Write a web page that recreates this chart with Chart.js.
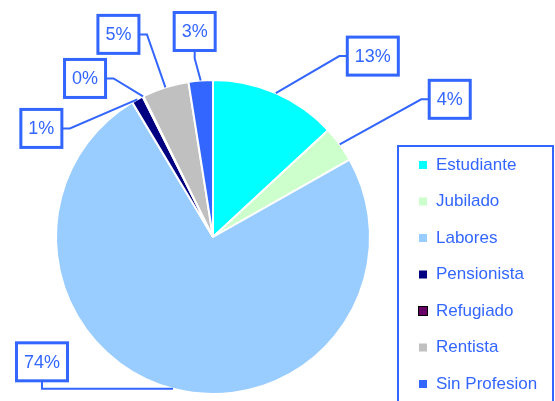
<!doctype html>
<html>
<head>
	<title>Profesion</title>
	<script src="https://cdn.jsdelivr.net/npm/chart.js@4/dist/chart.umd.min.js"></script>
	<style>
	html, body { margin: 0; padding: 0; background: #fff; }
	#wrap { width: 555px; height: 401px; position: relative; }
	</style>
</head>
<body>
	<div id="wrap"><canvas id="canvas"></canvas></div>
	<script>
		var categories = ['Estudiante', 'Jubilado', 'Labores', 'Pensionista', 'Refugiado', 'Rentista', 'Sin Profesion'];
		var shares = [13.1, 3.7, 74.6, 1.2, 0.1, 4.8, 2.5];
		var percentLabels = ['13%', '4%', '74%', '1%', '0%', '5%', '3%'];
		var sliceColors = ['#00FFFF', '#CCFFCC', '#99CCFF', '#000080', '#660066', '#C0C0C0', '#3366FF'];

		var blue = '#3366FF';
		// label box placement relative to the slice edge point, and which side the leader enters
		var labelPlacement = [
			{dx: 97, dy: -37, side: 'left'},
			{dx: 110, dy: -45, side: 'left'},
			{dx: -131, dy: -27, side: 'bottom'},
			{dx: -96, dy: 29, side: 'right'},
			{dx: -58, dy: -18, side: 'right'},
			{dx: -47, dy: -53, side: 'right'},
			{dx: -6, dy: -49, side: 'bottom'}
		];

		var labelPlugin = {
			id: 'boxLabels',
			afterDatasetsDraw: function(chart) {
				var ctx = chart.ctx;
				var arcs = chart.getDatasetMeta(0).data;
				ctx.save();
				ctx.font = '18px "Liberation Sans", Arial, sans-serif';
				ctx.textAlign = 'center';
				ctx.textBaseline = 'middle';
				arcs.forEach(function(arc, i) {
					var mid = (arc.startAngle + arc.endAngle) / 2;
					var ax = arc.x + Math.cos(mid) * arc.outerRadius;
					var ay = arc.y + Math.sin(mid) * arc.outerRadius;
					var p = labelPlacement[i];
					var cx = ax + p.dx, cy = ay + p.dy;
					var text = percentLabels[i];
					var w = ctx.measureText(text).width + 15, h = 38;
					var ex, ey, bx, by;
					if (p.side === 'left') { bx = cx - w / 2; by = cy; ex = bx - 8; ey = cy; }
					else if (p.side === 'right') { bx = cx + w / 2; by = cy; ex = bx + 8; ey = cy; }
					else { bx = cx; by = cy + h / 2; ex = cx; ey = by + 8; }
					ctx.strokeStyle = blue;
					ctx.lineWidth = 2;
					ctx.beginPath();
					ctx.moveTo(ax, ay);
					ctx.lineTo(ex, ey);
					ctx.lineTo(bx, by);
					ctx.stroke();
					ctx.fillStyle = '#fff';
					ctx.fillRect(cx - w / 2, cy - h / 2, w, h);
					ctx.lineWidth = 3;
					ctx.strokeRect(cx - w / 2, cy - h / 2, w, h);
					ctx.fillStyle = blue;
					ctx.fillText(text, cx, cy + 1);
				});
				ctx.restore();
			}
		};

		var legendPlugin = {
			id: 'boxLegend',
			afterDraw: function(chart) {
				var ctx = chart.ctx;
				ctx.save();
				ctx.strokeStyle = blue;
				ctx.lineWidth = 2;
				ctx.strokeRect(398, 146, 155, 270);
				ctx.font = '17px "Liberation Sans", Arial, sans-serif';
				ctx.textBaseline = 'middle';
				ctx.textAlign = 'left';
				categories.forEach(function(name, i) {
					var y = 165 + i * 36.5;
					ctx.fillStyle = sliceColors[i];
					ctx.fillRect(419, y - 4, 8, 8);
					if (name === 'Refugiado') {
						ctx.strokeStyle = '#000';
						ctx.lineWidth = 1;
						ctx.strokeRect(418.5, y - 4.5, 9, 9);
					}
					ctx.fillStyle = blue;
					ctx.fillText(name, 436, y);
				});
				ctx.restore();
			}
		};

		window.onload = function() {
			var ctx = document.getElementById('canvas').getContext('2d');
			window.myPie = new Chart(ctx, {
				type: 'pie',
				data: {
					labels: categories,
					datasets: [{
						data: shares,
						backgroundColor: sliceColors,
						borderColor: '#fff',
						borderWidth: 2
					}]
				},
				options: {
					responsive: true,
					maintainAspectRatio: false,
					animation: false,
					layout: { padding: {left: 55, right: 184, top: 79, bottom: 6} },
					plugins: {
						legend: { display: false },
						tooltip: { enabled: false }
					}
				},
				plugins: [labelPlugin, legendPlugin]
			});
		};
	</script>
</body>
</html>
